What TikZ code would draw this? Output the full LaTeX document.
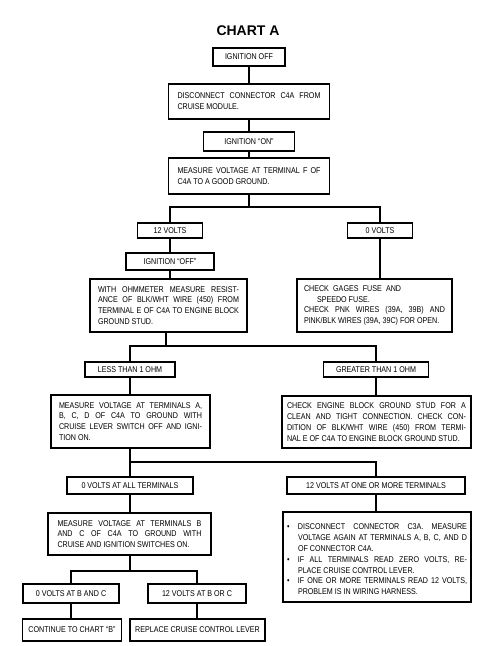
\documentclass[tikz,border=0pt]{standalone}
\usepackage{fontspec}
\setmainfont{Liberation Sans}[FakeStretch=0.85]
\newfontfamily\headfont{Liberation Sans}
\hyphenpenalty=10000
% bullet with hanging text
\newcommand\dotitem{\par\noindent\hangindent=11pt\hangafter=1\makebox[11pt][l]{\textbullet}}

\begin{document}
\begin{tikzpicture}[
    x=1pt, y=-1pt,
    line width=1.1pt,
    font=\fontsize{8.4}{10.8}\selectfont,
    % boxes holding one line
    tag/.style={draw, inner sep=0pt},
    % boxes holding a justified paragraph
    note/.style={draw, align=justify, inner ysep=0pt}
]
    \path[use as bounding box, fill=white] (0,0) rectangle (503,646);

    \node (title) at (248,31) {\headfont\bfseries\fontsize{14}{14}\selectfont CHART A};

    % --- Top column ---
    \node[tag, minimum width=72, minimum height=18] (ignoff) at (249,57) {IGNITION OFF};
    \node[note, text width=143, inner xsep=9, minimum height=35] (disc) at (249,101.5)
        {DISCONNECT CONNECTOR C4A FROM\linebreak CRUISE MODULE.};
    \node[tag, minimum width=91, minimum height=19] (ignon) at (249,141.5) {IGNITION ``ON''};
    \node[note, text width=143, inner xsep=9, minimum height=36] (measF) at (249,176)
        {MEASURE VOLTAGE AT TERMINAL F OF\linebreak C4A TO A GOOD GROUND.};
    \coordinate (s1) at (249,207);

    % --- 12 volts / 0 volts ---
    \node[tag, minimum width=65, minimum height=15] (v12) at (170,230.5) {12 VOLTS};
    \node[tag, minimum width=65, minimum height=15] (v0) at (380,230.5) {0 VOLTS};
    \node[tag, minimum width=88, minimum height=17] (ignoffb) at (170,261.5) {IGNITION ``OFF''};
    \node[note, text width=141, inner xsep=8, minimum height=53] (ohm) at (168.5,305.5)
        {WITH OHMMETER MEASURE RESIST-\linebreak ANCE OF BLK/WHT WIRE (450) FROM\linebreak
         TERMINAL E OF C4A TO ENGINE BLOCK\linebreak GROUND STUD.};
    \node[note, text width=141, inner xsep=7, minimum height=53] (gages) at (374.5,305.5)
        {CHECK\enspace GAGES\enspace FUSE\enspace AND\newline
         \hspace*{13pt}SPEEDO FUSE.\newline
         CHECK PNK WIRES (39A, 39B) AND\linebreak PINK/BLK WIRES (39A, 39C) FOR OPEN.};
    \coordinate (s2) at (166,346);

    % --- Resistance ---
    \node[tag, minimum width=90, minimum height=15] (less) at (130,369.5) {LESS THAN 1 OHM};
    \node[tag, minimum width=105, minimum height=15] (greater) at (376,369.5) {GREATER THAN 1 OHM};
    \node[note, text width=143, inner xsep=8, minimum height=53] (measA) at (130.5,421.5)
        {MEASURE VOLTAGE AT TERMINALS A,\linebreak B, C, D OF C4A TO GROUND WITH\linebreak
         CRUISE LEVER SWITCH OFF AND IGNI-\linebreak TION ON.};
    \node[note, text width=179, inner xsep=5, minimum height=52] (engine) at (376.5,422)
        {CHECK ENGINE BLOCK GROUND STUD FOR A\linebreak CLEAN AND TIGHT CONNECTION. CHECK CON-\linebreak
         DITION OF BLK/WHT WIRE (450) FROM TERMI-\linebreak NAL E OF C4A TO ENGINE BLOCK GROUND STUD.};
    \coordinate (s3) at (130,462);

    % --- Terminal voltages ---
    \node[tag, minimum width=126, minimum height=17] (zero) at (130,485.5) {0 VOLTS AT ALL TERMINALS};
    \node[tag, minimum width=178, minimum height=17] (twelve) at (376,485.5) {12 VOLTS AT ONE OR MORE TERMINALS};
    \node[note, text width=144, inner xsep=9.5, minimum height=42] (measB) at (129.5,534)
        {MEASURE VOLTAGE AT TERMINALS B\linebreak AND C OF C4A TO GROUND WITH\linebreak
         CRUISE AND IGNITION SWITCHES ON.};
    \node[note, text width=180, inner xsep=4, minimum height=90] (disc3) at (377,557)
        {\dotitem DISCONNECT CONNECTOR C3A. MEASURE\linebreak VOLTAGE AGAIN AT TERMINALS A, B, C, AND D\linebreak
         OF CONNECTOR C4A.
         \dotitem IF ALL TERMINALS READ ZERO VOLTS, RE-\linebreak PLACE CRUISE CONTROL LEVER.
         \dotitem IF ONE OR MORE TERMINALS READ 12 VOLTS,\linebreak PROBLEM IS IN WIRING HARNESS.\par};
    \coordinate (s4) at (130,571);

    % --- B and C ---
    \node[tag, minimum width=96, minimum height=19] (bc0) at (71,593.5) {0 VOLTS AT B AND C};
    \node[tag, minimum width=98, minimum height=19] (bc12) at (197,593.5) {12 VOLTS AT B OR C};
    \node[tag, minimum width=99, minimum height=22] (cont) at (72,630) {CONTINUE TO CHART ``B''};
    \node[tag, minimum width=135, minimum height=22] (repl) at (197.5,630) {REPLACE CRUISE CONTROL LEVER};

    % --- Connectors ---
    \draw (ignoff.south) -- (disc.north);
    \draw (disc.south) -- (ignon.north);
    \draw (ignon.south) -- (measF.north);
    \draw (measF.south) -- (s1);
    \draw (v12.north) |- (s1) -| (v0.north);
    \draw (v12.south) -- (ignoffb.north);
    \draw (ignoffb.south) -- (ignoffb.south |- ohm.north);
    \draw (v0.south) -- (v0.south |- gages.north);
    \draw (s2 |- ohm.south) -- (s2);
    \draw (less.north) |- (s2) -| (greater.north);
    \draw (less.south) -- (less.south |- measA.north);
    \draw (greater.south) -- (greater.south |- engine.north);
    \draw (s3 |- measA.south) -- (s3);
    \draw (zero.north) |- (s3) -| (twelve.north);
    \draw (zero.south) -- (zero.south |- measB.north);
    \draw (twelve.south) -- (twelve.south |- disc3.north);
    \draw (s4 |- measB.south) -- (s4);
    \draw (bc0.north) |- (s4) -| (bc12.north);
    \draw (bc0.south) -- (bc0.south |- cont.north);
    \draw (bc12.south) -- (bc12.south |- repl.north);

\end{tikzpicture}
\end{document}
